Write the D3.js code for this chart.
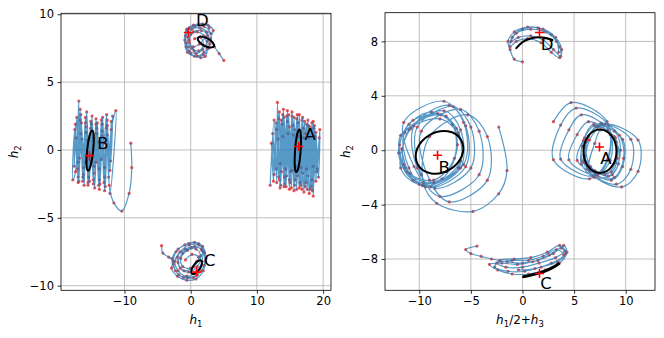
<!DOCTYPE html>
<html>
<head>
<meta charset="utf-8">
<script src="https://cdn.jsdelivr.net/npm/d3@7"></script>
<style>
  body { margin: 0; background: #fff; }
  svg { font-family: "DejaVu Sans", sans-serif; }
</style>
</head>
<body>
<script>
// axis domains and ticks
const leftXDomain = [-19.59, 21.19];
const leftYDomain = [-10.34, 10.07];
const rightXDomain = [-13.32, 12.84];
const rightYDomain = [-10.3, 10.11];
const leftXTicks = [-10, 0, 10, 20];
const leftYTicks = [-10, -5, 0, 5, 10];
const rightXTicks = [-10, -5, 0, 5, 10];
const rightYTicks = [-8, -4, 0, 4, 8];

// left panel trajectories (h1, h2)
const leftA = [
  [12.0,-2.6],[12.6,2.2],[13.0,-2.4],[13.1,3.5],[13.5,-2.8],[13.9,2.6],[14.2,-2.5],[14.6,2.9],[14.9,-2.9],[15.3,2.5],
  [15.6,-3.0],[16.0,2.3],[16.4,-2.8],[16.8,2.2],[17.1,-3.1],[17.5,1.9],[17.9,-3.2],[18.3,2.0],[18.5,-3.4],[18.9,1.3],
  [19.3,-2.0],[19.5,1.5],[19.0,-1.6],[18.6,1.6],[18.2,-2.7],[17.8,1.8],[17.4,-2.4],[17.0,1.6],[16.6,-2.6],[16.2,2.0],
  [15.8,-2.2],[15.4,1.8],[15.0,-2.4],[14.6,2.1],[14.2,-2.0],[13.8,1.9],[13.4,-2.2],[13.0,1.5],[12.6,-1.8],[12.4,1.2],
  [12.9,-1.4],[13.3,2.3],[13.7,-1.6],[14.1,2.4],[14.5,-1.9],[14.9,1.7],[15.3,-1.5],[15.7,1.5],[16.1,-1.9],[16.5,1.4],
  [16.9,-1.7],[17.3,1.2],[17.7,-1.9],[18.1,1.5],[18.5,-1.2],[18.8,1.0],[18.3,-2.2],[17.9,0.9],[17.5,-1.4],[17.1,0.9],
  [16.7,-1.3],[16.3,1.0],[15.9,-1.2],[15.5,1.1],[15.1,-1.6],[14.7,1.2],[14.3,-1.4],[13.9,1.0],[13.5,-1.0],[13.2,0.8],
  [13.4,2.8],[13.6,-2.6],[14.0,3.0],[14.4,-2.7],[14.8,2.6],[15.2,-2.8],[15.6,2.4],[16.0,-2.9],[16.4,2.6],[16.8,-2.9],
  [17.2,2.1],[17.6,-2.9],[18.0,1.7],[18.4,-3.0],[18.7,1.8],[19.1,-1.4],[19.4,0.9],[18.9,-2.3],[18.5,2.1],[18.1,-2.9],
  [17.7,2.2],[17.3,-2.7],[16.9,2.4],[16.5,-2.4],[16.1,2.6],[15.7,-2.6],[15.3,2.8],[14.9,-2.2],[14.5,2.5],[14.1,-2.7],
  [13.7,2.2],[13.3,-2.0],[12.9,2.0],[12.5,-2.3],[12.2,0.5]
];
const leftB = [
  [-9.05,0.5],[-8.9,-1.3],[-9.3,-3.2],[-10.4,-4.5],[-11.6,-3.9],[-12.3,-2.6],[-12.0,1.5],[-11.3,2.9],[-12.2,-3.2],[-12.6,2.2],
  [-13.0,-3.0],[-13.4,1.9],[-13.8,-2.9],[-14.3,2.3],[-14.7,-2.5],[-15.1,2.1],[-15.5,-2.6],[-15.9,2.4],[-16.3,-2.3],[-16.7,3.0],
  [-17.0,-2.0],[-16.9,3.6],[-17.4,-1.6],[-17.8,-2.2],[-17.5,1.5],[-17.1,-1.4],[-16.6,2.6],[-16.2,-1.8],[-15.8,1.7],[-15.4,-2.0],
  [-15.0,1.9],[-14.6,-1.7],[-14.2,1.6],[-13.8,-2.2],[-13.4,1.4],[-13.0,-2.0],[-12.6,1.8],[-12.2,-1.5],[-11.8,2.5],[-12.1,-0.8],
  [-12.6,1.1],[-13.0,-1.3],[-13.4,1.0],[-13.8,-1.4],[-14.2,1.2],[-14.6,-1.2],[-15.0,1.4],[-15.4,-1.5],[-15.8,1.3],[-16.2,-1.3],
  [-16.6,1.2],[-17.0,-0.9],[-17.3,0.9],[-16.8,-0.6],[-16.4,0.8],[-15.9,-0.9],[-15.5,0.7],[-15.1,-0.8],[-14.7,0.9],[-14.3,-0.9],
  [-13.9,0.6],[-13.5,-0.7],[-13.1,0.5],[-12.7,2.6],[-12.9,-2.7],[-13.3,2.4],[-13.7,-2.5],[-14.1,2.0],[-14.5,-2.8],[-14.9,2.5],
  [-15.3,-2.3],[-15.7,2.8],[-16.1,-2.6],[-16.5,2.0],[-16.9,-2.3],[-17.2,2.4],[-17.6,-1.2],[-17.4,1.9],[-17.0,-2.4],[-16.7,2.2],
  [-16.3,-2.0],[-15.9,2.0],[-15.5,-2.4],[-15.1,1.6],[-14.7,-2.2],[-14.3,1.9],[-13.9,-2.6],[-13.5,2.2],[-13.1,-2.4],[-12.7,1.6],
  [-12.4,-2.0],[-12.0,2.1]
];
const leftC = [
  [-4.4,-7.05],[-4.2,-7.6],[-3.3,-7.9],[-2.6,-8.2],[-2.9,-8.7],[-2.0,-9.3],[-0.6,-9.6],[0.8,-9.5],[1.9,-8.9],[2.3,-8.0],
  [1.8,-7.1],[0.6,-6.8],[-0.9,-7.0],[-2.2,-7.5],[-2.6,-8.4],[-1.8,-9.2],[-0.4,-9.4],[1.0,-9.2],[2.0,-8.5],[2.1,-7.6],
  [1.2,-7.0],[-0.2,-7.0],[-1.6,-7.5],[-2.4,-8.2],[-1.9,-8.9],[-0.6,-9.3],[0.8,-9.0],[1.7,-8.2],[1.7,-7.4],[0.6,-7.1],
  [-0.8,-7.3],[-2.0,-7.9],[-1.6,-8.7],[-0.3,-9.0],[1.0,-8.6],[1.5,-7.8],[0.8,-7.3],[-0.5,-7.4],[-1.5,-8.0],[-1.2,-8.6],
  [0.0,-8.7],[0.9,-8.2],[1.9,-7.5],[1.2,-6.9],[-0.3,-6.9],[-1.9,-7.3],[-2.8,-8.0],[-2.3,-8.9],[-1.1,-9.4],[0.4,-9.4],
  [1.6,-8.9],[2.2,-8.2],[1.6,-7.3],[0.1,-7.2],[-1.2,-7.6],[-1.9,-8.3],[-1.0,-8.9],[0.5,-8.6],[1.2,-7.9],[0.2,-7.7],[-0.8,-8.1]
];
const leftD = [
  [5.0,6.6],[4.3,7.1],[3.6,7.6],[3.0,8.2],[3.4,8.8],[2.6,9.2],[1.2,9.2],[-0.2,9.0],[-0.8,8.4],[-0.7,7.6],
  [0.0,7.1],[1.0,6.9],[2.0,7.2],[2.9,7.8],[3.0,8.6],[2.0,9.1],[0.6,9.1],[-0.5,8.7],[-0.7,7.9],[-0.2,7.3],
  [0.8,7.1],[1.8,7.4],[2.5,8.0],[2.4,8.7],[1.4,9.0],[0.2,8.9],[-0.4,8.3],[-0.3,7.6],[0.5,7.3],[1.5,6.8],
  [2.2,6.9],[2.5,7.5],[2.0,8.4],[1.0,8.7],[0.0,8.5],[-0.2,7.9],[0.4,7.6],[1.3,7.8],[2.2,8.3],[2.8,9.0],
  [1.8,9.3],[0.4,9.2],[-0.6,8.9],[-0.9,8.1],[-0.5,7.2],[0.6,6.9],[1.9,7.0],[2.7,7.5],[2.6,8.4],[1.6,8.8],
  [0.4,8.7],[-0.2,8.1],[0.2,7.5],[1.2,7.3],[1.9,7.7],[1.5,8.3],[0.6,8.2]
];

// right panel trajectories (h1/2+h3, h2)
const rightA = [
  [3.0,2.1],[4.7,3.5],[8.2,2.1],[8.2,-0.7],[6.5,-2.1],[3.0,-0.7],
  [3.7,1.85],[5.2,3.1],[8.3,1.85],[8.3,-0.65],[6.8,-1.9],[3.7,-0.65],
  [4.5,1.5],[5.7,2.6],[8.3,1.5],[8.3,-0.7],[7.1,-1.8],[4.5,-0.7],
  [5.3,1.15],[6.4,2.1],[8.5,1.15],[8.5,-0.75],[7.4,-1.7],[5.3,-0.75],
  [6.0,0.9],[7.0,1.8],[9.0,0.9],[9.0,-0.9],[8.0,-1.8],[6.0,-0.9],
  [6.3,0.8],[7.4,1.8],[9.7,0.8],[9.7,-1.2],[8.6,-2.2],[6.3,-1.2],
  [6.3,0.8],[7.7,1.9],[10.5,0.8],[10.5,-1.4],[9.1,-2.5],[6.3,-1.4],
  [6.5,0.75],[8.0,1.9],[11.2,0.75],[11.2,-1.55],[9.6,-2.7],[6.5,-1.55],
  [7.0,0.5],[7.6,1.5],[9.1,0.6],[9.3,-1.0],[8.3,-1.9],[6.6,-1.2],
  [6.2,0.6],[7.2,1.7],[8.9,1.0],[9.2,-0.6],[8.6,-1.6],[7.0,-1.5],[6.0,-0.4],
  [6.4,1.0],[7.6,2.0],[9.4,1.1],[9.8,-0.6],[8.9,-2.0],[7.3,-1.9],[5.8,-0.8],
  [5.9,0.7],[6.9,1.9],[8.9,1.4],[9.5,0.0],[8.7,-1.8],[7.0,-2.0],[5.7,-1.0],[5.8,0.3]
];
const rightB = [
  [-2.3,1.7],[-1.5,-1.5],[-2.3,-3.2],[-4.8,-4.5],[-8.3,-3.9],[-9.6,-2.4],
  [-9.0,1.0],[-5.3,2.6],[-3.4,1.0],[-3.4,-2.2],[-7.1,-3.8],[-9.0,-2.2],
  [-9.8,1.4],[-6.0,3.0],[-4.2,1.4],[-4.2,-1.8],[-8.0,-3.4],[-9.8,-1.8],
  [-10.2,1.7],[-6.7,3.2],[-5.0,1.7],[-5.0,-1.3],[-8.5,-2.8],[-10.2,-1.3],
  [-10.5,1.8],[-7.1,3.3],[-5.5,1.8],[-5.5,-1.2],[-8.9,-2.7],[-10.5,-1.2],
  [-11.5,2.05],[-7.6,3.6],[-5.7,2.05],[-5.7,-1.05],[-9.6,-2.6],[-11.5,-1.05],
  [-11.0,1.5],[-7.6,2.9],[-6.0,1.5],[-6.0,-1.3],[-9.4,-2.7],[-11.0,-1.3],
  [-11.4,1.3],[-7.9,2.6],[-6.2,1.3],[-6.2,-1.3],[-9.7,-2.6],[-11.4,-1.3],
  [-11.8,1.1],[-8.0,2.3],[-6.2,1.1],[-6.2,-1.3],[-10.0,-2.5],[-11.8,-1.3],
  [-10.8,1.6],[-8.2,2.7],[-6.4,1.6],[-6.0,-0.8],[-8.6,-2.4],[-11.2,-1.6],
  [-11.9,0.4],[-10.6,2.2],[-7.4,2.5],[-6.3,0.4],[-7.8,-2.1],[-10.6,-2.2],
  [-12.0,-0.2],[-11.0,1.9],[-8.8,2.8],[-6.8,1.9],[-6.6,-0.6],[-8.6,-2.2],[-10.9,-1.7],[-11.7,0.1]
];
const rightC = [
  [-4.4,-7.05],[-5.5,-7.3],[-5.0,-7.6],[-4.0,-7.8],[-3.0,-8.0],[-1.5,-8.2],[0.0,-8.3],[1.5,-8.1],[3.0,-7.6],[4.0,-7.0],
  [4.3,-7.5],[3.6,-8.3],[2.2,-8.8],[0.6,-9.1],[-1.0,-9.1],[-2.4,-8.8],[-3.2,-8.4],[-2.0,-8.3],[-0.5,-8.4],[1.0,-8.2],
  [2.6,-7.7],[3.8,-7.2],[4.2,-7.6],[3.4,-8.2],[1.8,-8.6],[0.2,-8.9],[-1.4,-8.9],[-2.7,-8.6],[-2.2,-8.1],[-0.8,-8.0],
  [0.8,-7.9],[2.4,-7.5],[3.6,-7.0],[4.1,-7.4],[3.2,-7.9],[1.6,-8.3],[0.0,-8.6],[-1.6,-8.6],[-2.5,-8.3],[-1.0,-8.1],
  [0.6,-8.1],[2.0,-7.8],[3.3,-7.3],[4.0,-7.7],[2.8,-8.3],[1.2,-8.7],[-0.4,-8.8]
];
const rightD = [
  [0.0,6.5],[-0.8,6.7],[-1.2,7.4],[-1.4,8.0],[-0.8,8.7],[0.5,9.05],[2.0,8.9],[3.2,8.3],[3.8,7.4],[3.6,6.8],
  [2.8,7.2],[1.8,7.9],[0.5,8.2],[-0.6,8.0],[-1.2,7.6],[-1.0,8.3],[0.0,8.9],[1.5,9.0],[2.8,8.5],[3.6,7.6],
  [3.7,6.9],[3.0,7.4],[2.0,8.1],[0.8,8.4],[-0.4,8.3],[-1.1,8.0],[-0.6,8.6],[0.8,8.9],[2.2,8.7],[3.3,8.0],[3.5,7.2]
];

// black arcs in the right panel
const rightArcC = [[0.1,-9.3],[1.0,-9.15],[2.0,-8.95],[3.0,-8.6],[3.5,-8.35]];
const rightArcD = [[-0.6,7.5],[0.0,7.95],[0.7,8.2],[1.5,8.3],[2.3,8.25],[2.9,8.1]];

// ellipses: centre, half-axes (data units), rotation (deg)
const leftEllipses = [
  {cx: 16.18, cy: -0.06, rx: 0.42, ry: 1.58, angle: 4},
  {cx: -15.19, cy: -0.04, rx: 0.45, ry: 1.49, angle: 6},
  {cx: 0.9, cy: -8.64, rx: 1.21, ry: 0.26, angle: -55},
  {cx: 2.3, cy: 7.95, rx: 1.36, ry: 0.29, angle: 28}
];
const rightEllipses = [
  {cx: 7.51, cy: -0.07, rx: 1.6, ry: 1.6, angle: 0},
  {cx: -8.04, cy: -0.16, rx: 2.42, ry: 1.47, angle: -30}
];

// centroids (red crosses)
const leftCenters = [[16.3,0.25],[-15.3,-0.42],[0.9,-9.0],[-0.36,8.65]];
const rightCenters = [[7.46,0.24],[-8.23,-0.37],[1.65,-9.07],[1.65,8.65]];

// cluster names and where they sit
const clusterNames = ["A", "B", "C", "D"];
const leftLabelAt = [[17.2,0.74],[-14.1,0.07],[2.0,-8.58],[0.8,9.12]];
const rightLabelAt = [[7.53,-0.98],[-8.14,-1.64],[1.72,-10.24],[1.78,7.35]];

const W = 664, H = 338;
const svg = d3.select("body").append("svg")
  .attr("width", W)
  .attr("height", H);

const fmt = d => d < 0 ? "\u2212" + Math.abs(d) : String(d);

const panels = [
  {
    id: "left", xr: [61, 331], yr: [290.3, 13.3],
    xDomain: leftXDomain, yDomain: leftYDomain, xTicks: leftXTicks, yTicks: leftYTicks,
    tracks: [leftA, leftB, leftC, leftD], arcs: [], ellipses: leftEllipses,
    centers: leftCenters, labels: leftLabelAt,
    xLabel: [["h", "i"], ["1", "sub"]], xLabelY: 324, yLabelX: 18
  },
  {
    id: "right", xr: [385, 655], yr: [290.3, 12.7],
    xDomain: rightXDomain, yDomain: rightYDomain, xTicks: rightXTicks, yTicks: rightYTicks,
    tracks: [rightA, rightB, rightC, rightD], arcs: [[rightArcC, 3], [rightArcD, 2]], ellipses: rightEllipses,
    centers: rightCenters, labels: rightLabelAt,
    xLabel: [["h", "i"], ["1", "sub"], ["/2+", ""], ["h", "i"], ["3", "sub"]], xLabelY: 324, yLabelX: 350
  }
];

panels.forEach(drawPanel);

function drawPanel(p) {
  const x = d3.scaleLinear().domain(p.xDomain).range(p.xr);
  const y = d3.scaleLinear().domain(p.yDomain).range(p.yr);
  const g = svg.append("g");

  g.append("clipPath").attr("id", "clip-" + p.id)
    .append("rect")
    .attr("x", p.xr[0]).attr("y", p.yr[1])
    .attr("width", p.xr[1] - p.xr[0]).attr("height", p.yr[0] - p.yr[1]);

  // grid
  g.append("g").selectAll("line").data(p.xTicks).join("line")
    .attr("x1", d => x(d)).attr("x2", d => x(d))
    .attr("y1", p.yr[0]).attr("y2", p.yr[1])
    .attr("stroke", "#b0b0b0").attr("stroke-width", 0.8);
  g.append("g").selectAll("line").data(p.yTicks).join("line")
    .attr("y1", d => y(d)).attr("y2", d => y(d))
    .attr("x1", p.xr[0]).attr("x2", p.xr[1])
    .attr("stroke", "#b0b0b0").attr("stroke-width", 0.8);

  const plot = g.append("g").attr("clip-path", `url(#clip-${p.id})`);
  const line = d3.line().x(d => x(d[0])).y(d => y(d[1])).curve(d3.curveCatmullRom.alpha(0.5));

  // sampled points under the trajectory
  p.tracks.forEach(track => {
    plot.append("g").selectAll("circle").data(track).join("circle")
      .attr("cx", d => x(d[0])).attr("cy", d => y(d[1]))
      .attr("r", 1.6)
      .attr("fill", "#e8282b")
      .attr("opacity", 0.8);
  });
  p.tracks.forEach(track => {
    plot.append("path").datum(track)
      .attr("d", line)
      .attr("fill", "none")
      .attr("stroke", "#1f77b4")
      .attr("stroke-width", 1.2)
      .attr("stroke-opacity", 0.75);
  });

  // ellipses
  plot.append("g").selectAll("ellipse").data(p.ellipses).join("ellipse")
    .attr("transform", d => `translate(${x(d.cx)},${y(d.cy)}) rotate(${d.angle})`)
    .attr("rx", d => Math.abs(x(d.rx) - x(0)))
    .attr("ry", d => Math.abs(y(d.ry) - y(0)))
    .attr("fill", "none")
    .attr("stroke", "#000")
    .attr("stroke-width", 2);

  const arcLine = d3.line().x(d => x(d[0])).y(d => y(d[1])).curve(d3.curveCatmullRom);
  p.arcs.forEach(([pts, w]) => {
    plot.append("path").datum(pts)
      .attr("d", arcLine)
      .attr("fill", "none")
      .attr("stroke", "#000")
      .attr("stroke-width", w)
      .attr("stroke-linecap", "round");
  });

  // centroids
  plot.append("g").selectAll("path").data(p.centers).join("path")
    .attr("transform", d => `translate(${x(d[0])},${y(d[1])})`)
    .attr("d", "M-4.5,0H4.5M0,-4.5V4.5")
    .attr("stroke", "red")
    .attr("stroke-width", 1.6);

  // cluster labels
  g.append("g").selectAll("text").data(p.labels).join("text")
    .attr("x", d => x(d[0])).attr("y", d => y(d[1]))
    .attr("font-size", 16.5)
    .attr("fill", "#000")
    .text((d, i) => clusterNames[i]);

  // axes
  const xAxis = d3.axisBottom(x).tickValues(p.xTicks).tickSize(3.5).tickPadding(3.5).tickFormat(fmt);
  const yAxis = d3.axisLeft(y).tickValues(p.yTicks).tickSize(3.5).tickPadding(3.5).tickFormat(fmt);
  const gx = g.append("g").attr("transform", `translate(0,${p.yr[0]})`).call(xAxis);
  const gy = g.append("g").attr("transform", `translate(${p.xr[0]},0)`).call(yAxis);
  [gx, gy].forEach(a => {
    a.select(".domain").remove();
    a.selectAll("line").attr("stroke", "#000").attr("stroke-width", 0.8);
    a.selectAll("text").attr("font-size", 11.5).attr("fill", "#000")
      .attr("font-family", "DejaVu Sans, sans-serif");
  });

  g.append("rect")
    .attr("x", p.xr[0]).attr("y", p.yr[1])
    .attr("width", p.xr[1] - p.xr[0]).attr("height", p.yr[0] - p.yr[1])
    .attr("fill", "none").attr("stroke", "#000").attr("stroke-width", 0.8);

  // axis titles
  const xt = g.append("text")
    .attr("x", (p.xr[0] + p.xr[1]) / 2).attr("y", p.xLabelY)
    .attr("text-anchor", "middle").attr("font-size", 12);
  addMath(xt, p.xLabel);

  const yt = g.append("text")
    .attr("transform", `translate(${p.yLabelX},${(p.yr[0] + p.yr[1]) / 2}) rotate(-90)`)
    .attr("text-anchor", "middle").attr("font-size", 12);
  addMath(yt, [["h", "i"], ["2", "sub"]]);
}

function addMath(sel, parts) {
  parts.forEach(([txt, kind], i) => {
    const t = sel.append("tspan").text(txt);
    if (kind === "i") t.attr("font-style", "italic");
    if (kind === "sub") t.attr("font-size", 8.5).attr("dy", 3);
    else if (i > 0 && parts[i - 1][1] === "sub") t.attr("dy", -3);
  });
}
</script>
</body>
</html>
